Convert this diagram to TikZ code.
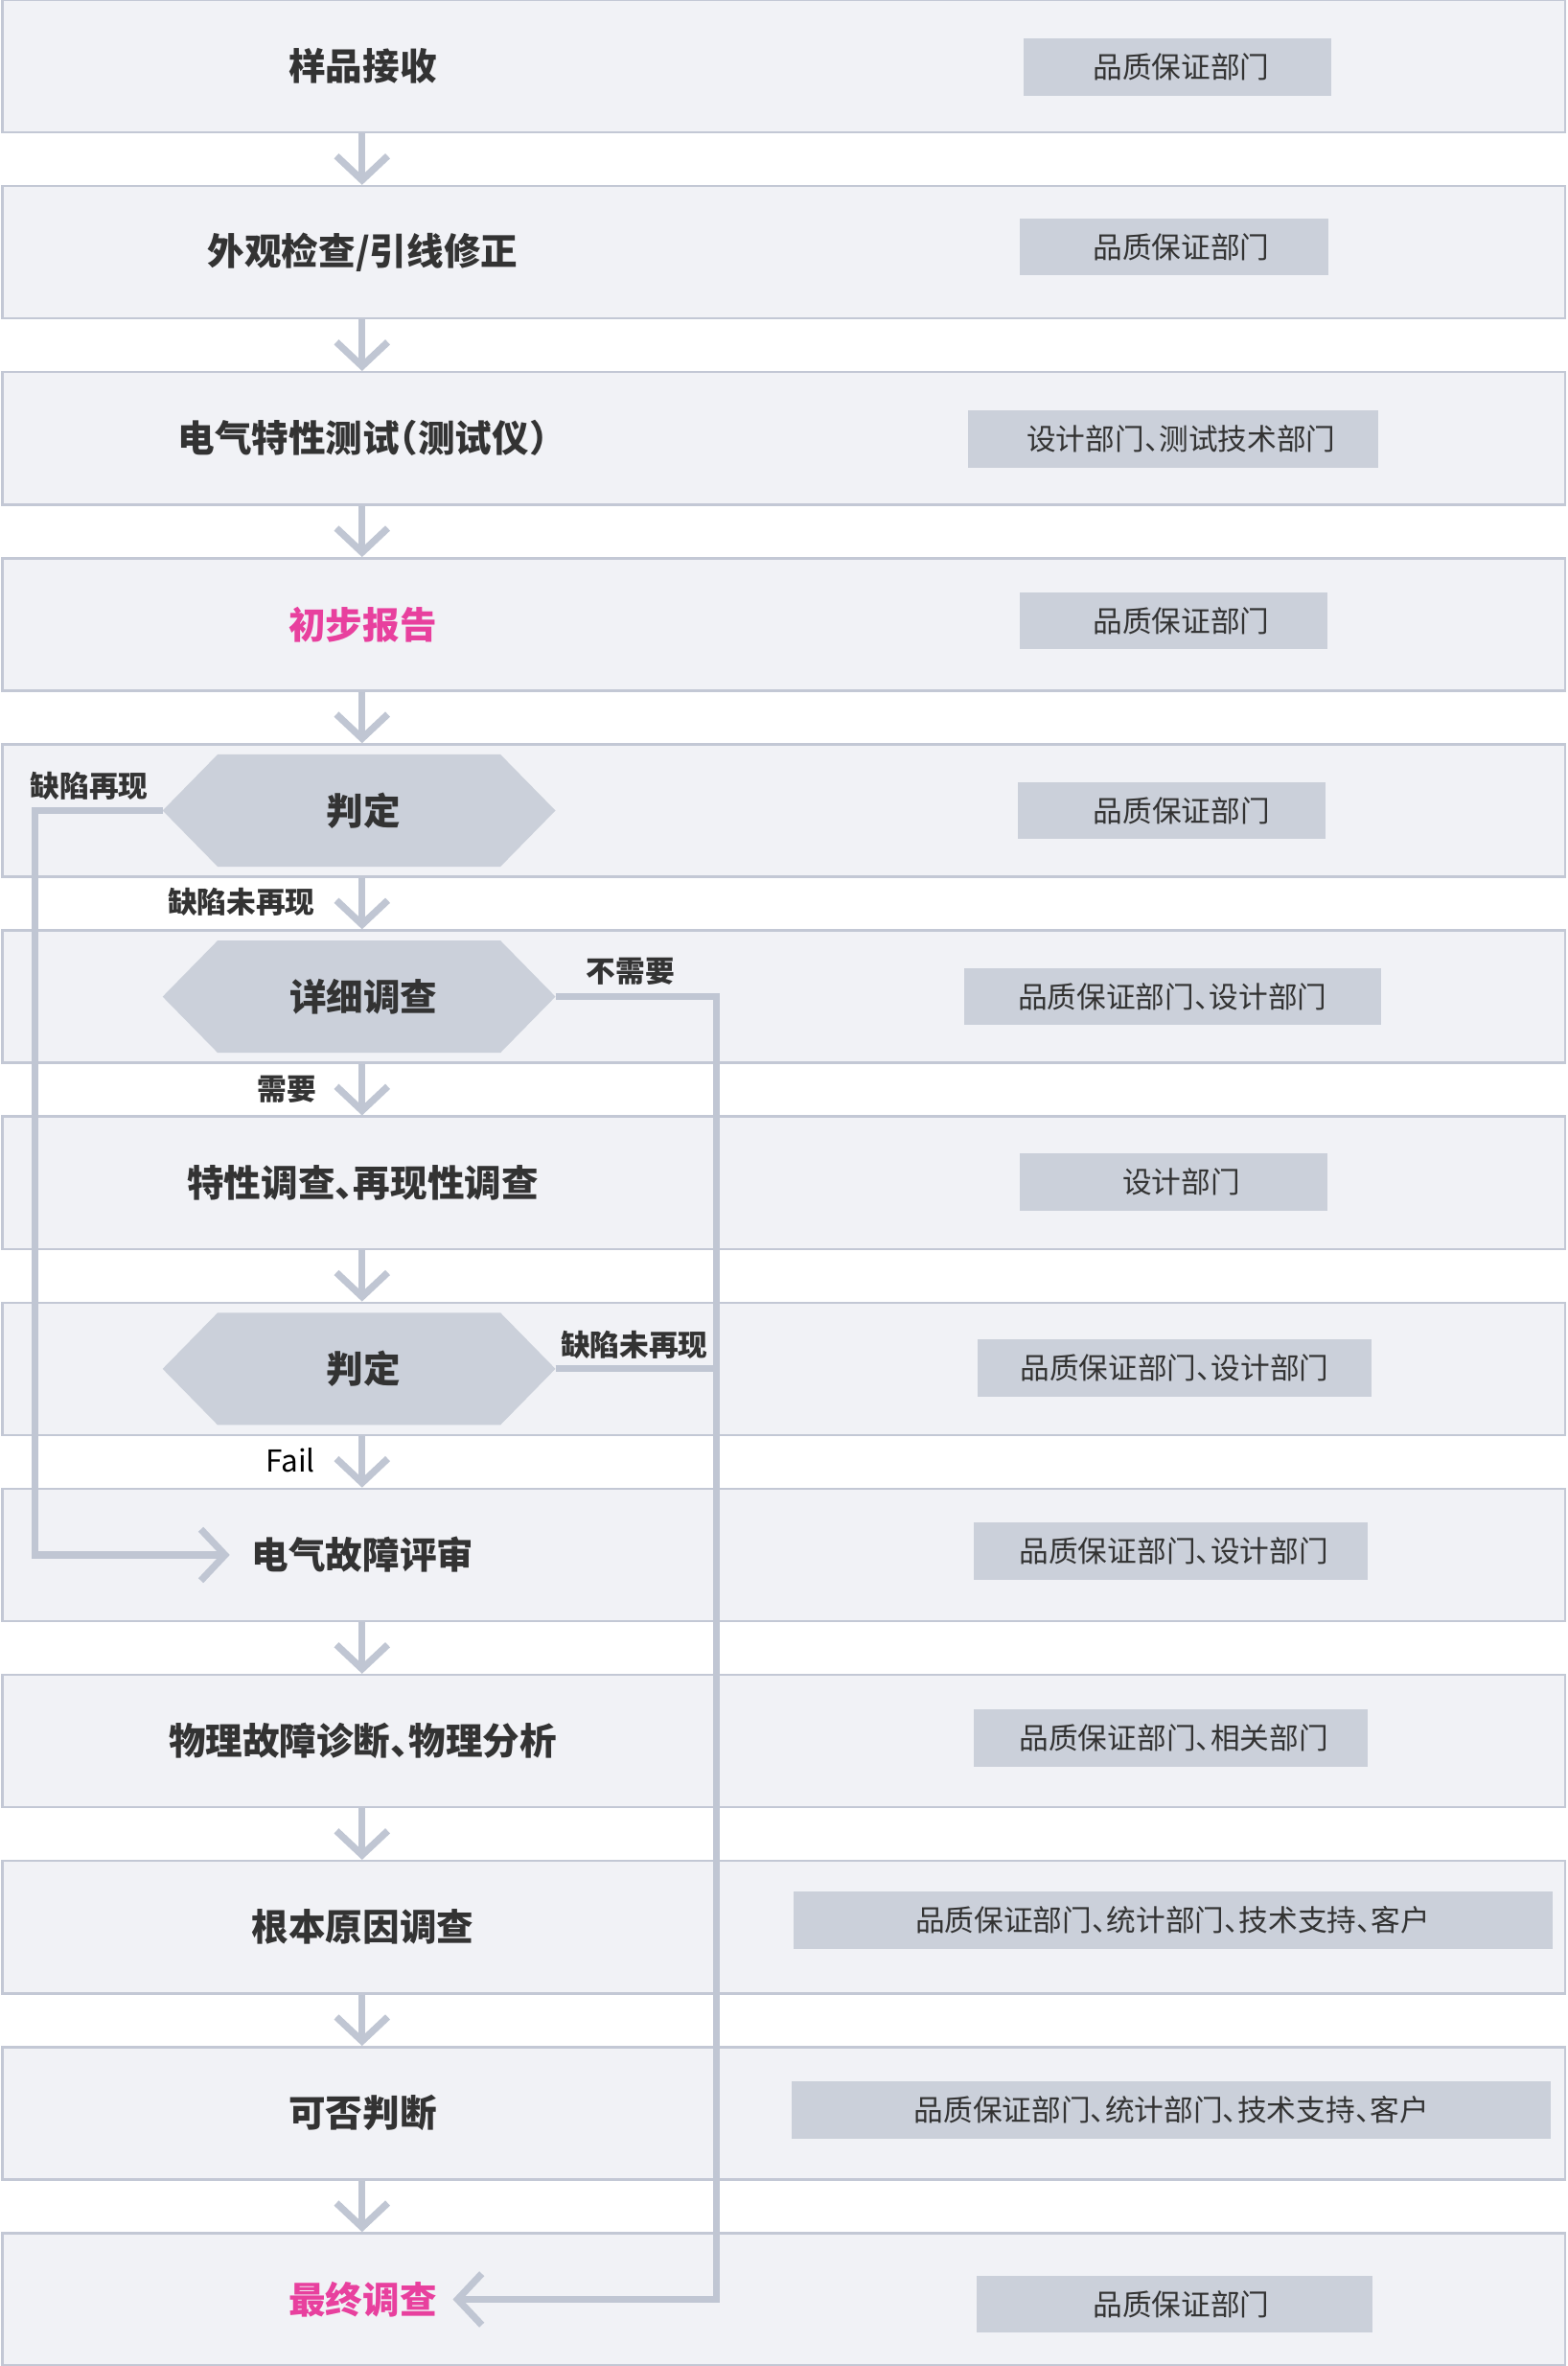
\documentclass[tikz,border=0pt]{standalone}
\usepackage{fontspec}
\setmainfont{Noto Sans CJK SC}[RawFeature=+halt]
\usetikzlibrary{arrows.meta,calc}
\definecolor{boxfill}{HTML}{F1F2F6}
\definecolor{boxline}{HTML}{C3C8D5}
\definecolor{tagfill}{HTML}{CBD0DA}
\definecolor{hexfill}{HTML}{CBD0DA}
\definecolor{linec}{HTML}{C0C6D3}
\definecolor{txt}{HTML}{333333}
\definecolor{pinkc}{HTML}{E8409E}
\pgfdeclarelayer{bg}
\pgfdeclarelayer{mid}
\pgfsetlayers{bg,mid,main}
\tikzset{
  rowbox/.style={draw=boxline, line width=1.6pt, fill=boxfill, minimum width=1036pt, minimum height=87.7pt, inner sep=0pt},
  maintxt/.style={font=\bfseries\fontsize{24.5}{26}\selectfont, text=txt, inner sep=0pt},
  hexnode/.style={maintxt, minimum width=260pt, minimum height=74pt},
  tag/.style={fill=tagfill, minimum height=37.8pt, inner sep=0pt, font=\fontsize{19.5}{21}\selectfont, text=txt},
  lbl/.style={font=\bfseries\fontsize{19.5}{21}\selectfont, text=txt, inner sep=0pt},
  conn/.style={draw=linec, line width=4.6pt},
  arr/.style={conn, -{Straight Barb[length=16pt, width=34pt, line width=4.6pt]}},
}
\begin{document}
\begin{tikzpicture}[x=1pt, y=-1pt]
\useasboundingbox (0,0) rectangle (1039,1568);
\coordinate (ax) at (240,0);
\coordinate (lx) at (23,0);
\coordinate (rx) at (475,0);
\begin{pgfonlayer}{bg}
\fill[white] (0,0) rectangle (1039,1568);
\node[rowbox] (r1) at (519.5,43.85) {};
\node[rowbox] (r2) at (519.5,167.18) {};
\node[rowbox] (r3) at (519.5,290.51) {};
\node[rowbox] (r4) at (519.5,413.84) {};
\node[rowbox] (r5) at (519.5,537.17) {};
\node[rowbox] (r6) at (519.5,660.5) {};
\node[rowbox] (r7) at (519.5,783.83) {};
\node[rowbox] (r8) at (519.5,907.16) {};
\node[rowbox] (r9) at (519.5,1030.49) {};
\node[rowbox] (r10) at (519.5,1153.82) {};
\node[rowbox] (r11) at (519.5,1277.15) {};
\node[rowbox] (r12) at (519.5,1400.48) {};
\node[rowbox] (r13) at (519.5,1523.81) {};
\end{pgfonlayer}
% main texts
\node[maintxt] (m1) at (240.5,43.85) {样品接收};
\node[maintxt] (m2) at (240.5,167.18) {外观检查/引线修正};
\node[maintxt] (m3) at (240.5,290.51) {电气特性测试（测试仪）};
\node[maintxt, text=pinkc] (m4) at (240.5,413.84) {初步报告};
\node[hexnode] (h5) at (238,537.17) {\kern6pt 判定};
\node[hexnode] (h6) at (238,660.5) {\kern6pt 详细调查};
\node[maintxt] (m7) at (240.5,783.83) {特性调查、再现性调查};
\node[hexnode] (h8) at (238,907.16) {\kern6pt 判定};
\node[maintxt] (m9) at (240.5,1030.49) {电气故障评审};
\node[maintxt] (m10) at (240.5,1153.82) {物理故障诊断、物理分析};
\node[maintxt] (m11) at (240.5,1277.15) {根本原因调查};
\node[maintxt] (m12) at (240.5,1400.48) {可否判断};
\node[maintxt, text=pinkc] (m13) at (240.5,1523.81) {最终调查};
% hexagon fills
\begin{pgfonlayer}{mid}
\foreach \h in {h5,h6,h8}{
  \fill[hexfill] (\h.west) -- ($(\h.north west)+(36.5,0)$) -- ($(\h.north east)+(-36.5,0)$)
    -- (\h.east) -- ($(\h.south east)+(-36.5,0)$) -- ($(\h.south west)+(36.5,0)$) -- cycle;
}
\end{pgfonlayer}
% right tags
\node[tag, minimum width=204.5pt] (t1) at (780.5,44.4) {\kern5pt 品质保证部门};
\node[tag, minimum width=204.5pt] (t2) at (778,163.7) {\kern10pt 品质保证部门};
\node[tag, minimum width=271.7pt] (t3) at (777.5,290.9) {\kern11pt 设计部门、测试技术部门};
\node[tag, minimum width=204.4pt] (t4) at (778,411.4) {\kern10pt 品质保证部门};
\node[tag, minimum width=204.3pt] (t5) at (776.7,537.2) {\kern13pt 品质保证部门};
\node[tag, minimum width=276.7pt] (t6) at (777.2,660.4) {品质保证部门、设计部门};
\node[tag, minimum width=204.4pt] (t7) at (778,783.5) {\kern10pt 设计部门};
\node[tag, minimum width=261.5pt] (t8) at (778.6,906.6) {品质保证部门、设计部门};
\node[tag, minimum width=261.6pt] (t9) at (776.1,1027.9) {\kern4pt 品质保证部门、设计部门};
\node[tag, minimum width=261.6pt] (t10) at (776.1,1151.8) {\kern4pt 品质保证部门、相关部门};
\node[tag, minimum width=503pt] (t11) at (777.5,1272.4) {品质保证部门、统计部门、技术支持、客户};
\node[tag, minimum width=503pt] (t12) at (776.5,1398.5) {品质保证部门、统计部门、技术支持、客户};
\node[tag, minimum width=262pt] (t13) at (778.5,1527) {\kern9pt 品质保证部门};
% vertical arrows
\draw[arr] (r1.south -| ax) -- (r2.north -| ax);
\draw[arr] (r2.south -| ax) -- (r3.north -| ax);
\draw[arr] (r3.south -| ax) -- (r4.north -| ax);
\draw[arr] (r4.south -| ax) -- (r5.north -| ax);
\draw[arr] (r5.south -| ax) -- (r6.north -| ax);
\draw[arr] (r6.south -| ax) -- (r7.north -| ax);
\draw[arr] (r7.south -| ax) -- (r8.north -| ax);
\draw[arr] (r8.south -| ax) -- (r9.north -| ax);
\draw[arr] (r9.south -| ax) -- (r10.north -| ax);
\draw[arr] (r10.south -| ax) -- (r11.north -| ax);
\draw[arr] (r11.south -| ax) -- (r12.north -| ax);
\draw[arr] (r12.south -| ax) -- (r13.north -| ax);
% loops
\draw[arr] (h5.west) -- (h5.west -| lx) -- (lx |- m9) -- ([xshift=-14.5pt]m9.west);
\draw[arr] (h6.east) -- (h6.east -| rx) -- (rx |- m13) -- ([xshift=10.5pt]m13.east);
\draw[conn] (h8.east) -- (h8.east -| rx);
% connector labels
\node[lbl, anchor=west] (l1) at (20,521) {缺陷再现};
\node[lbl, anchor=east] (l2) at (209,598) {缺陷未再现};
\node[lbl] (l3) at (418,644) {不需要};
\node[lbl, anchor=east] (l4) at (210,722) {需要};
\node[lbl] (l5) at (420.5,891) {缺陷未再现};
\node[lbl, anchor=east, font=\mdseries\fontsize{20}{21}\selectfont, text=black] (l6) at (209,968) {Fail};
\end{tikzpicture}
\end{document}
